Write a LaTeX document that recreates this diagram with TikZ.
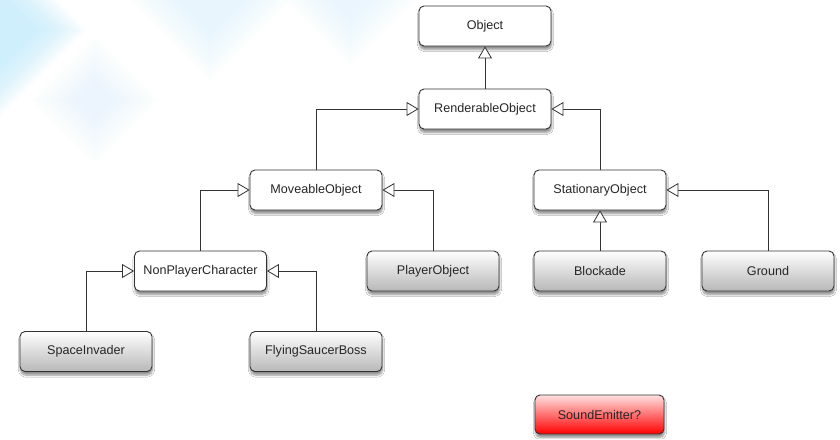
\documentclass[tikz,border=0pt]{standalone}
\usepackage{fontspec}
\setmainfont{Liberation Sans}
\usetikzlibrary{arrows.meta,shadows.blur}
\definecolor{bgcyan}{HTML}{BDEBFC}
\definecolor{bgpale}{HTML}{DDF4FD}
\definecolor{edge}{HTML}{333333}
\tikzset{
  box/.style={draw=edge, line width=0.9pt, rounded corners=5pt,
    minimum width=132pt, minimum height=40pt, fill=white,
    font=\fontsize{12.6}{14}\selectfont, text=black!85,
    blur shadow={shadow xshift=0.5pt, shadow yshift=-3.5pt, shadow blur steps=7, shadow opacity=45}},
  graybox/.style={box, top color=white, bottom color=black!28},
  redbox/.style={box, top color=red!12, bottom color=red},
  inh/.style={draw=edge, line width=0.8pt, -{Triangle[length=12pt,width=14pt,fill=white,line width=0.8pt]}}
}
\newcommand{\blurdiamond}[5]{% cx cy r color stepopacity
  \foreach \k in {0,...,9}{
    \fill[#4, opacity=#5] (#1,#2-#3+\k*5) -- (#1+#3-\k*5,#2) -- (#1,#2+#3-\k*5) -- (#1-#3+\k*5,#2) -- cycle;
  }}
\begin{document}
\begin{tikzpicture}[x=1pt,y=-1pt]
\useasboundingbox (0,0) rectangle (840,439);
\fill[white] (0,0) rectangle (840,439);
% background diamonds
\blurdiamond{-15}{30}{100}{bgcyan}{0.1}
\blurdiamond{95}{100}{65}{bgpale}{0.06}
\blurdiamond{210}{-15}{95}{bgpale}{0.08}
\blurdiamond{350}{-30}{95}{bgpale}{0.07}
% nodes
\node[box] (object) at (485,26) {Object};
\node[box] (renderable) at (485,109) {RenderableObject};
\node[box] (moveable) at (316,190) {MoveableObject};
\node[box] (stationary) at (600,190) {StationaryObject};
\node[box] (npc) at (200.5,271) {NonPlayerCharacter};
\node[graybox] (player) at (433,271) {PlayerObject};
\node[graybox] (blockade) at (600,271) {Blockade};
\node[graybox] (ground) at (768,271) {Ground};
\node[graybox] (spaceinv) at (86,351.5) {SpaceInvader};
\node[graybox] (flying) at (316,351.5) {FlyingSaucerBoss};
\node[redbox, minimum width=129pt, minimum height=39pt] (sound) at (599.5,414.5) {SoundEmitter?};
% connectors
\draw[inh] (renderable.north) -- (object.south);
\draw[inh] (moveable.north) |- (renderable.west);
\draw[inh] (stationary.north) |- (renderable.east);
\draw[inh] (npc.north) |- (moveable.west);
\draw[inh] (player.north) |- (moveable.east);
\draw[inh] (blockade.north) -- (stationary.south);
\draw[inh] (ground.north) |- (stationary.east);
\draw[inh] (spaceinv.north) |- (npc.west);
\draw[inh] (flying.north) |- (npc.east);
\end{tikzpicture}
\end{document}
